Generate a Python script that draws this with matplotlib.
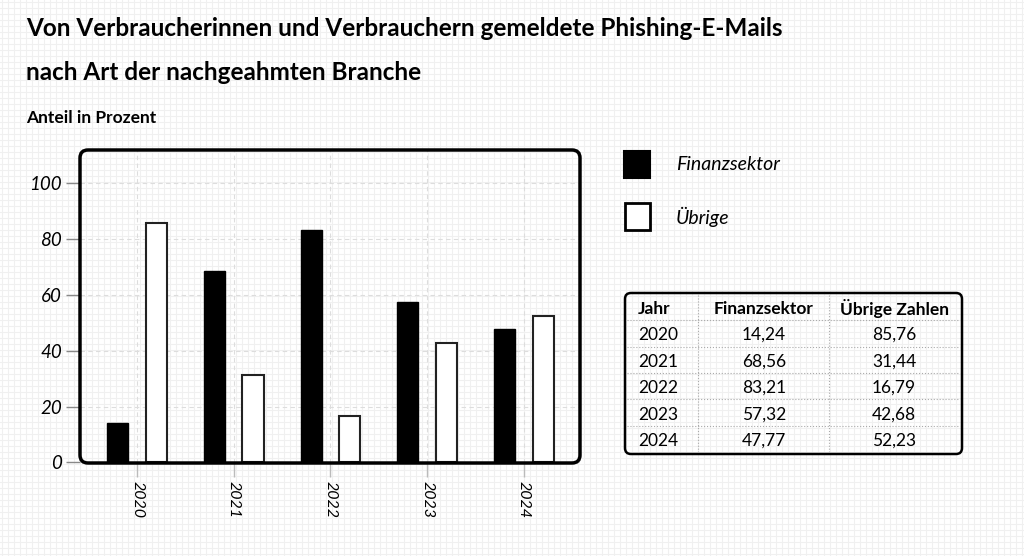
import numpy as np
import matplotlib.pyplot as plt
from matplotlib.patches import FancyBboxPatch, Rectangle

plt.rcParams['font.family'] = ['Lato', 'DejaVu Sans']

# Daten
jahre = ['2020', '2021', '2022', '2023', '2024']
finanz = [14.24, 68.56, 83.21, 57.32, 47.77]
uebrige = [85.76, 31.44, 16.79, 42.68, 52.23]
y_ticks = [0, 20, 40, 60, 80, 100]
tab_header = ['Jahr', 'Finanzsektor', 'Übrige Zahlen']

W, H = 1024, 556
fig = plt.figure(figsize=(W / 100, H / 100), dpi=100)

# Hintergrund mit feinem Raster
bg = fig.add_axes([0, 0, 1, 1], zorder=0)
bg.set_xlim(0, W)
bg.set_ylim(H, 0)
bg.axis('off')
for p in np.arange(2, W, 6):
    bg.axvline(p, color='#f0f0f0', lw=0.8)
for p in np.arange(2, H, 6):
    bg.axhline(p, color='#f0f0f0', lw=0.8)

# Diagramm
L, T, R, B = 80, 150, 580, 463
ax = fig.add_axes([L / W, 1 - B / H, (R - L) / W, (B - T) / H], zorder=1)
ax.set_facecolor('none')
x = np.arange(len(jahre))
bw = 0.22
ax.bar(x - 0.2, finanz, bw, color='black', edgecolor='black', lw=1, zorder=3)
ax.bar(x + 0.2, uebrige, bw, color='white', edgecolor='#222222', lw=1.5, zorder=3)
ax.set_xlim(-0.59, 4.58)
ax.set_ylim(-0.2, 111.8)
ax.set_yticks(y_ticks)
ax.set_yticklabels([str(v) for v in y_ticks], fontsize=13.5, style='italic')
ax.set_xticks(x)
ax.set_xticklabels(jahre, rotation=270, fontsize=11.5, style='italic')
ax.tick_params(axis='y', length=10, width=1, color='#888888', pad=3)
ax.tick_params(axis='x', length=10, width=1, color='#bbbbbb', pad=3)
ax.grid(True, color='#dddddd', lw=0.8, linestyle=(0, (4, 3)), zorder=0)
for s in ax.spines.values():
    s.set_visible(False)

# Overlay fuer Rahmen, Titel, Legende, Tabelle
ov = fig.add_axes([0, 0, 1, 1], zorder=3)
ov.set_xlim(0, W)
ov.set_ylim(H, 0)
ov.axis('off')
ov.set_facecolor('none')

ov.add_patch(FancyBboxPatch((L, T), R - L, B - T,
                            boxstyle='round,pad=0,rounding_size=8',
                            fill=False, ec='black', lw=2.5))

ov.text(26, 28, 'Von Verbraucherinnen und Verbrauchern gemeldete Phishing-E-Mails',
        fontsize=17.5, fontweight='bold', va='center')
ov.text(26, 73, 'nach Art der nachgeahmten Branche',
        fontsize=17.5, fontweight='bold', va='center')
ov.text(26, 118, 'Anteil in Prozent', fontsize=12.5, fontweight='bold', va='center')

# Legende
ov.add_patch(Rectangle((624, 151), 26, 27, fc='black', ec='black', lw=1.5))
ov.add_patch(Rectangle((625, 203), 25, 27, fc='white', ec='black', lw=2))
ov.text(676, 165, 'Finanzsektor', fontsize=14, style='italic', va='center')
ov.text(676, 217, 'Übrige', fontsize=14, style='italic', va='center')

# Tabelle
tx0, tx1, ty0, ty1 = 625, 962, 293, 454
ov.add_patch(FancyBboxPatch((tx0, ty0), tx1 - tx0, ty1 - ty0,
                            boxstyle='round,pad=0,rounding_size=6',
                            fill=False, ec='black', lw=1.8))
for xv in [698, 829]:
    ov.plot([xv, xv], [ty0 + 2, ty1 - 2], color='#aaaaaa', lw=0.8, ls=':')
for yv in [320, 347, 373, 399, 426]:
    ov.plot([tx0 + 2, tx1 - 2], [yv, yv], color='#aaaaaa', lw=0.8, ls=':')

col_x = [638, 764, 894]
ov.text(col_x[0], 309, tab_header[0], fontsize=12.5, fontweight='bold', va='center')
ov.text(col_x[1], 309, tab_header[1], fontsize=12.5, fontweight='bold', va='center', ha='center')
ov.text(col_x[2], 309, tab_header[2], fontsize=12.5, fontweight='bold', va='center', ha='center')
row_y = [335, 362, 388, 415, 441]
for j, f, u, yy in zip(jahre, finanz, uebrige, row_y):
    ov.text(col_x[0], yy, j, fontsize=12.5, va='center')
    ov.text(col_x[1], yy, f'{f:.2f}'.replace('.', ','), fontsize=12.5, va='center', ha='center')
    ov.text(col_x[2], yy, f'{u:.2f}'.replace('.', ','), fontsize=12.5, va='center', ha='center')

fig.savefig('out.png', dpi=100)
